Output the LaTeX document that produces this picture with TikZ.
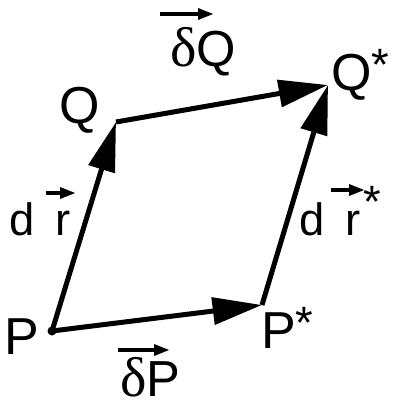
\documentclass[tikz,border=0pt]{standalone}
\usepackage{fontspec}
\setmainfont{Liberation Sans}
\newfontfamily\serifd{Liberation Serif}
\usetikzlibrary{arrows.meta}
\tikzset{
  side/.style={line width=3.75pt, line join=round, -{Triangle[length=37pt,width=20pt]}},
  vecarrow/.style={line width=3pt, -{Triangle[length=12pt,width=8pt]}},
  lbl/.style={inner sep=0pt, anchor=base, font=\fontsize{39pt}{44pt}\selectfont},
  slbl/.style={inner sep=0pt, anchor=base, font=\fontsize{34pt}{38pt}\selectfont},
}
\newcommand{\mystar}[1]{{\fontsize{34pt}{36pt}\selectfont\raisebox{#1}{*}}}
\begin{document}
\begin{tikzpicture}[x=0.75pt,y=-0.75pt]
\useasboundingbox (0,0) rectangle (394,410);
% corners
\coordinate (cP) at (52,331);
\coordinate (cQ) at (116,122);
\coordinate (cQs) at (328,85);
\coordinate (cPs) at (262,305);
% sides
\draw[side] (cP) -- (cQ);
\draw[side] (cP) -- (cPs);
\draw[side] (cQ) -- (cQs);
\draw[side] (cPs) -- (cQs);
\fill (cP) circle[radius=4.5];
% labels
\node[lbl] (lP) at (22,354) {P};
\node[lbl] (lQ) at (80,123) {Q};
\node[lbl, anchor=base west] (lQs) at (331,90) {Q\mystar{7pt}};
\node[lbl, anchor=base west] (lPs) at (261,348) {P\mystar{7pt}};
% d r
\node[slbl, anchor=base west] (ldr) at (9,235) {d\hspace{16pt}r};
\coordinate (ar1) at (46,193);
\coordinate (ar2) at (76,193);
\draw[vecarrow] (ar1) -- (ar2);
\node[slbl, anchor=base west] (ldrs) at (299,235) {d\hspace{16pt}r\hspace{2pt}\mystar{13pt}};
\coordinate (ars1) at (331,190);
\coordinate (ars2) at (365,190);
\draw[vecarrow] (ars1) -- (ars2);
% delta Q
\node[lbl, anchor=base west, font=\fontsize{38pt}{42pt}\selectfont] (ldQ) at (170,66) {{\serifd\fontsize{42pt}{44pt}\selectfont δ}Q};
\coordinate (aq1) at (160,14);
\coordinate (aq2) at (214,14);
\draw[vecarrow] (aq1) -- (aq2);
% delta P
\node[lbl, anchor=base west, font=\fontsize{38pt}{42pt}\selectfont] (ldP) at (120,396) {{\serifd\fontsize{42pt}{44pt}\selectfont δ}P};
\coordinate (ap1) at (118,350);
\coordinate (ap2) at (170,350);
\draw[vecarrow] (ap1) -- (ap2);
\end{tikzpicture}
\end{document}
